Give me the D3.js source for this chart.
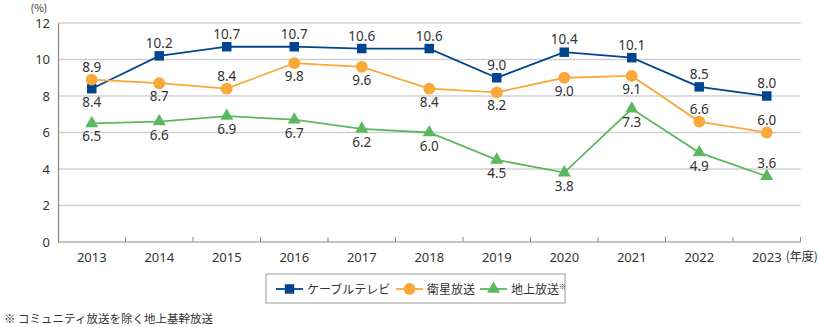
<!DOCTYPE html>
<html>
<head>
<meta charset="utf-8">
<script src="https://cdn.jsdelivr.net/npm/d3@7"></script>
<style>
  body { margin: 0; background: #fff; }
  text { font-family: "Noto Sans CJK JP", "Noto Sans", sans-serif; fill: #333; }
  text.num { font-family: "Noto Sans", "DejaVu Sans", sans-serif; }
</style>
</head>
<body>
<div id="chart"></div>
<script>
// data
const years = ['2013', '2014', '2015', '2016', '2017', '2018', '2019', '2020', '2021', '2022', '2023'];
const cable = [8.4, 10.2, 10.7, 10.7, 10.6, 10.6, 9.0, 10.4, 10.1, 8.5, 8.0];
const satellite = [8.9, 8.7, 8.4, 9.8, 9.6, 8.4, 8.2, 9.0, 9.1, 6.6, 6.0];
const terrestrial = [6.5, 6.6, 6.9, 6.7, 6.2, 6.0, 4.5, 3.8, 7.3, 4.9, 3.6];
const yTicks = [0, 2, 4, 6, 8, 10, 12];
// label above (true) or below (false) the point
const cableAbove = [false, true, true, true, true, true, true, true, true, true, true];
const satAbove = [true, false, true, false, false, false, false, false, false, true, true];
const terrAbove = [false, false, false, false, false, false, false, false, false, false, true];

const width = 818, height = 327;
const margin = { left: 58, right: 17, top: 23, bottom: 85 };

const svg = d3.select('#chart').append('svg')
    .attr('width', width)
    .attr('height', height);

const x = d3.scaleBand()
    .domain(years)
    .range([margin.left, margin.left + 67.5 * years.length]);

const y = d3.scaleLinear()
    .domain([0, 12])
    .range([height - margin.bottom, margin.top]);

// gridlines
svg.append('g')
    .selectAll('line')
    .data(yTicks.filter(d => d > 0))
    .join('line')
    .attr('x1', margin.left)
    .attr('x2', x.range()[1])
    .attr('y1', d => y(d))
    .attr('y2', d => y(d))
    .attr('stroke', '#d0d0d0')
    .attr('stroke-width', 1.5);

// y axis
const yAxis = svg.append('g')
    .attr('transform', `translate(${margin.left},0)`)
    .call(d3.axisLeft(y).tickValues(yTicks).tickSize(0).tickPadding(8));
yAxis.select('.domain').attr('stroke', '#888').attr('stroke-width', 1.2);
yAxis.selectAll('text')
    .attr('class', 'num')
    .attr('font-size', 13)
    .attr('fill', '#333');

// x axis with ticks at band boundaries
const xAxisG = svg.append('g')
    .attr('transform', `translate(0,${y(0)})`);
xAxisG.append('line')
    .attr('x1', margin.left).attr('x2', x.range()[1])
    .attr('stroke', '#888').attr('stroke-width', 1.2);
xAxisG.selectAll('line.tick')
    .data(years)
    .join('line')
    .attr('class', 'tick')
    .attr('x1', d => x(d) + x.step())
    .attr('x2', d => x(d) + x.step())
    .attr('y1', 0).attr('y2', -5)
    .attr('stroke', '#888');
xAxisG.selectAll('text')
    .data(years)
    .join('text')
    .attr('class', 'num')
    .attr('x', d => x(d) + x.bandwidth() / 2)
    .attr('y', 20)
    .attr('text-anchor', 'middle')
    .attr('font-size', 13)
    .text(d => d);

svg.append('text')
    .attr('x', x(years[years.length - 1]) + x.bandwidth() / 2 + 19)
    .attr('y', y(0) + 19)
    .attr('font-size', 12)
    .text('(年度)');

svg.append('text')
    .attr('x', 39).attr('y', 11.5)
    .attr('text-anchor', 'middle')
    .attr('font-size', 10.5)
    .text('(%)');

const cx = d => x(d) + x.bandwidth() / 2;

const series = [
    { name: 'ケーブルテレビ', values: cable, above: cableAbove, color: '#00458e', shape: d3.symbolSquare, size: 90 },
    { name: '衛星放送', values: satellite, above: satAbove, color: '#f9a83a', shape: d3.symbolCircle, size: 110 },
    { name: '地上放送', values: terrestrial, above: terrAbove, color: '#5cb85f', shape: d3.symbolTriangle, size: 75 }
];

const line = d3.line()
    .x(d => cx(d.year))
    .y(d => y(d.value));

series.forEach(s => {
    const pts = years.map((yr, i) => ({ year: yr, value: s.values[i], above: s.above[i] }));
    const g = svg.append('g');
    g.append('path')
        .attr('d', line(pts))
        .attr('fill', 'none')
        .attr('stroke', s.color)
        .attr('stroke-width', 1.8);
    g.selectAll('path.marker')
        .data(pts)
        .join('path')
        .attr('class', 'marker')
        .attr('d', d3.symbol().type(s.shape).size(s.size))
        .attr('transform', d => `translate(${cx(d.year)},${y(d.value)})`)
        .attr('fill', s.color);
    g.selectAll('text')
        .data(pts)
        .join('text')
        .attr('class', 'num')
        .attr('x', d => cx(d.year))
        .attr('y', d => y(d.value) + (d.above ? -8 : 18))
        .attr('text-anchor', 'middle')
        .attr('font-size', 13.5)
        .text(d => d.value.toFixed(1));
});

// legend
const legend = svg.append('g').attr('transform', 'translate(266,274)');
legend.append('rect')
    .attr('width', 299).attr('height', 29)
    .attr('fill', '#fff')
    .attr('stroke', '#999');
const legendX = [10, 130, 214];
series.forEach((s, i) => {
    const lg = legend.append('g').attr('transform', `translate(${legendX[i]},15)`);
    lg.append('line').attr('x1', 0).attr('x2', 27)
        .attr('stroke', s.color).attr('stroke-width', 1.8);
    lg.append('path')
        .attr('d', d3.symbol().type(s.shape).size(s.size))
        .attr('transform', 'translate(13.5,0)')
        .attr('fill', s.color);
    const t = lg.append('text').attr('x', 31).attr('y', 4.5)
        .attr('font-size', 12).text(s.name);
    if (i === 2) {
        t.append('tspan').attr('font-size', 7).attr('dy', -5).text('※');
    }
});

svg.append('text')
    .attr('x', 4).attr('y', 323)
    .attr('font-size', 11.5)
    .text('※  コミュニティ放送を除く地上基幹放送');
</script>
</body>
</html>
